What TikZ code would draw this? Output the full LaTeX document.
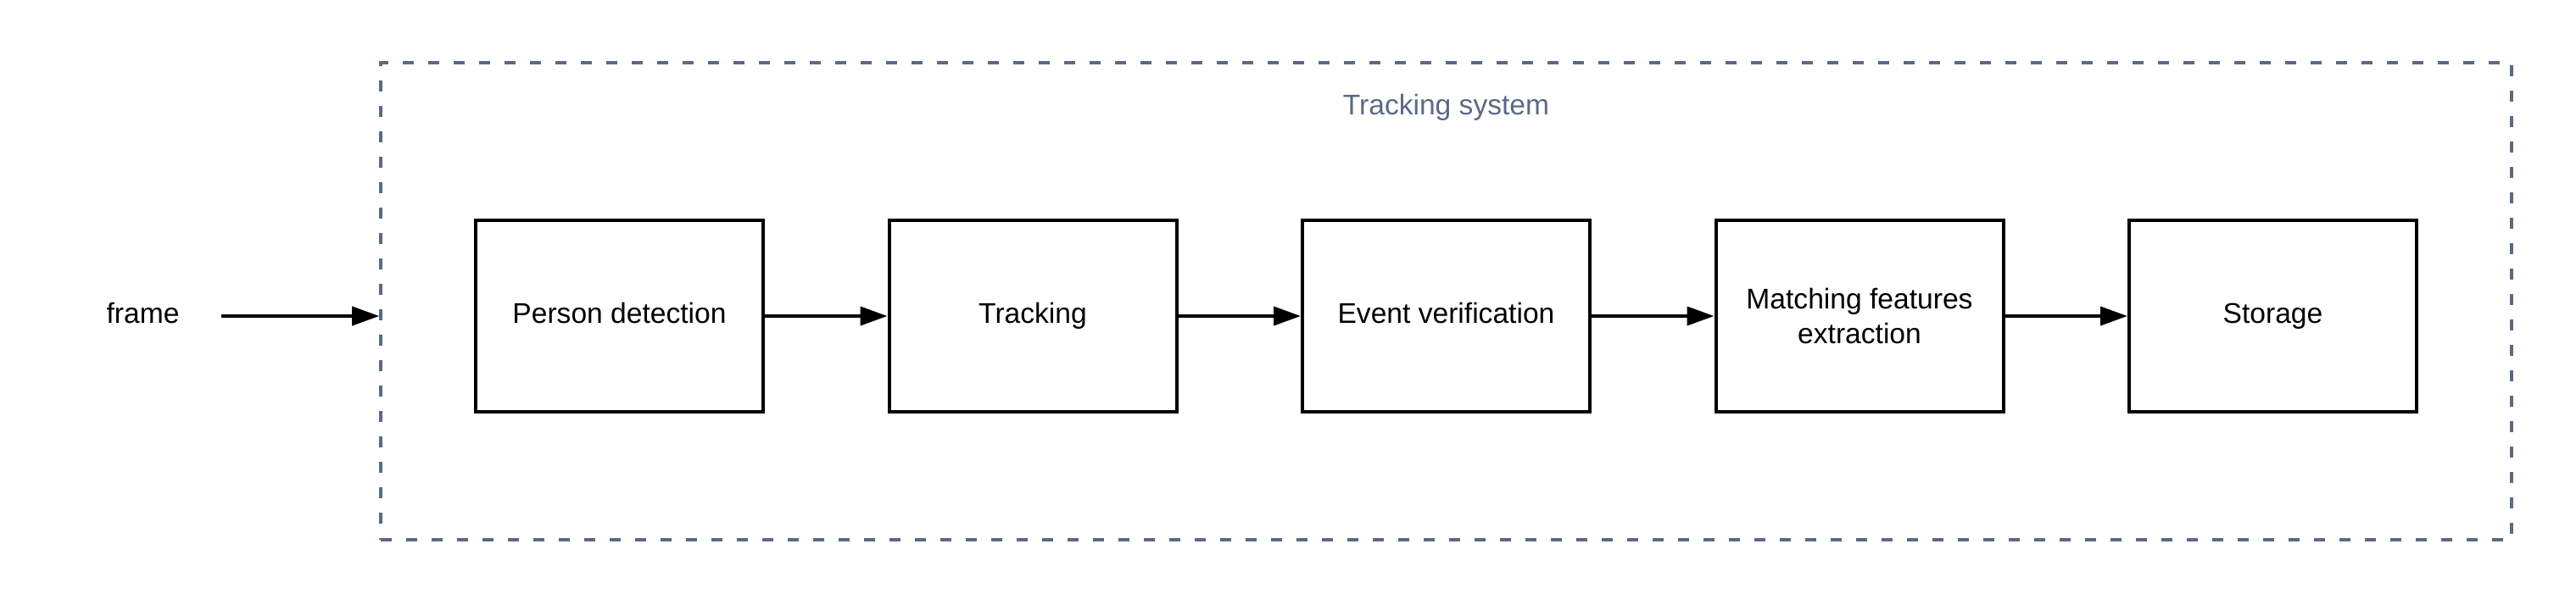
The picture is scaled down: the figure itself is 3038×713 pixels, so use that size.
\documentclass[tikz,border=0pt]{standalone}
\usepackage{fontspec}
\setmainfont{Liberation Sans}
\usetikzlibrary{arrows.meta}
\definecolor{sysgray}{RGB}{90,106,133}
\tikzset{
	stage/.style={draw,line width=2pt,minimum width=169.5pt,minimum height=113pt,align=center,inner sep=0pt},
	oneline/.style={text height=12pt,text depth=3.5pt},
	flow/.style={-{Triangle[length=16pt,width=11pt]},line width=2pt},
	container/.style={draw=sysgray,line width=1.8pt,dash pattern=on 6.5pt off 8.5pt,minimum width=1256.5pt,minimum height=281.5pt,inner sep=0pt}
}
\begin{document}
\begin{tikzpicture}[x=0.5pt,y=0.5pt,font=\fontsize{16.8}{20.3}\selectfont,line join=miter]
		\useasboundingbox (0,0) rectangle (3038,713);
		\node[container] (sys) at (1705.5,357.5) {};
		\node[text=sysgray] (title) at (1705.5,586) {Tracking system};
		\node[oneline] (frame) at (168.5,340) {frame};
		\foreach \i/\t/\o in {1/Person detection/oneline,2/Tracking/oneline,3/Event verification/oneline,4/{Matching features\\extraction}/{},5/Storage/oneline}
		\node[stage,\o] (s\i) at ({730.5+487.5*(\i-1)},340) {\t};
		\draw[flow] ([xshift=21pt]frame.east) -- (sys.west |- frame);
		\foreach \a/\b in {1/2,2/3,3/4,4/5}
		\draw[flow] (s\a) -- (s\b);
	\end{tikzpicture}
\end{document}
